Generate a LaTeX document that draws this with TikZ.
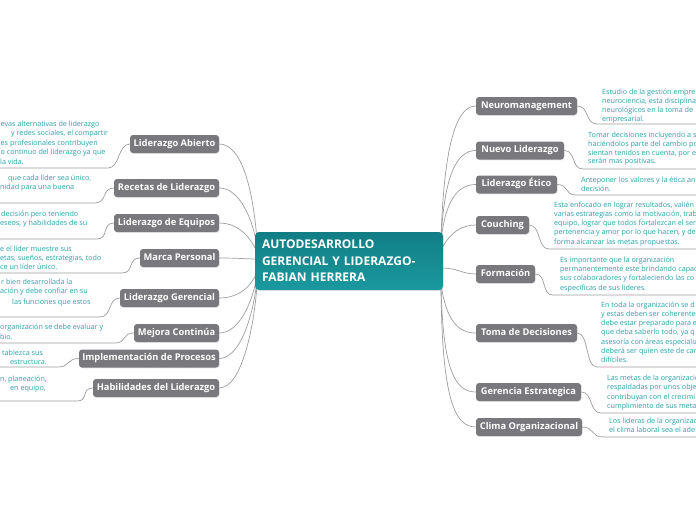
\documentclass[tikz,border=0pt]{standalone}
\usepackage{fontspec}
\setmainfont{Open Sans}
\usetikzlibrary{shadows}
\definecolor{boxgray}{RGB}{121,121,125}
\definecolor{tealtxt}{RGB}{40,162,170}
\definecolor{tealtop}{RGB}{17,126,132}
\definecolor{tealbot}{RGB}{26,153,159}
\definecolor{linegray}{RGB}{158,158,158}
\tikzset{
  topic/.style={fill=boxgray, text=white, font=\bfseries\fontsize{9.3}{11}\selectfont,
    rounded corners=3pt, minimum height=18pt, inner sep=0pt, text height=6.7pt, text depth=2.2pt,
    drop shadow={opacity=0.18,shadow xshift=0.6pt,shadow yshift=-0.9pt}},
  central/.style={top color=tealtop, bottom color=tealbot, draw=none, text=white,
    font=\bfseries\fontsize{12}{16.5}\selectfont, rounded corners=4pt,
    minimum width=188pt, minimum height=58pt, inner xsep=7pt, inner ysep=0pt,
    text width=174pt, align=left,
    drop shadow={opacity=0.18,shadow xshift=0.6pt,shadow yshift=-0.9pt}},
  note/.style={text=tealtxt, font=\fontsize{7.2}{9}\selectfont, inner sep=0pt, anchor=base west},
  conn/.style={draw=linegray, line width=0.7pt},
}
\begin{document}
\begin{tikzpicture}[x=1pt,y=-1pt]
\useasboundingbox (0,0) rectangle (696,520);
\fill[white] (0,0) rectangle (696,520);
\clip (0,0) rectangle (696,520);

% ---------- topic nodes ----------
\node[topic, minimum width=89pt]  (abierto) at (174.5,144) {Liderazgo Abierto};
\node[topic, minimum width=105pt] (recetas) at (166.5,188) {Recetas de Liderazgo};
\node[topic, minimum width=105pt] (equipos) at (166.5,223) {Liderazgo de Equipos};
\node[topic, minimum width=79pt]  (marca)   at (179.5,258) {Marca Personal};
\node[topic, minimum width=99pt]  (gerencial) at (169.5,298) {Liderazgo Gerencial};
\node[topic, minimum width=85pt]  (mejora)  at (176.5,333) {Mejora Continúa};
\node[topic, minimum width=140pt] (implem)  at (149,358.5) {Implementación de Procesos};
\node[topic, minimum width=126pt] (habil)   at (156,388) {Habilidades del Liderazgo};

\node[topic, minimum width=101pt] (neuro)   at (526.5,106) {Neuromanagement};
\node[topic, minimum width=88pt]  (nuevo)   at (520,150.5) {Nuevo Liderazgo};
\node[topic, minimum width=81pt]  (etico)   at (516.5,184.5) {Liderazgo Ético};
\node[topic, minimum width=53pt]  (couch)   at (502.5,225) {Couching};
\node[topic, minimum width=59pt]  (form)    at (505.5,274) {Formación};
\node[topic, minimum width=101pt] (toma)    at (526.5,333) {Toma de Decisiones};
\node[topic, minimum width=105pt] (geren)   at (528.5,392) {Gerencia Estrategica};
\node[topic, minimum width=106pt] (clima)   at (529,427) {Clima Organizacional};

% ---------- anchor points on the central topic ----------
\coordinate (cl1) at (257,240);
\coordinate (cl2) at (257,246);
\coordinate (cl3) at (257,252);
\coordinate (cl4) at (258,259);
\coordinate (cl5) at (257,272);
\coordinate (cl6) at (257,276);
\coordinate (cl7) at (257,280);
\coordinate (cl8) at (257,284);
\coordinate (cr1) at (441,238);
\coordinate (cr2) at (441,240);
\coordinate (cr3) at (441,242);
\coordinate (cr4) at (441,250);
\coordinate (cr5) at (441,268);
\coordinate (cr6) at (441,284);
\coordinate (cr7) at (441,287);
\coordinate (cr8) at (441,288);

% ---------- connectors central -> topics ----------
\draw[conn] (abierto.east) .. controls (242,144) and (253,190) .. (cl1);
\draw[conn] (recetas.east) .. controls (240,188) and (253,220) .. (cl2);
\draw[conn] (equipos.east) .. controls (240,223) and (252,240) .. (cl3);
\draw[conn] (marca.east) .. controls (240,258) and (245,259) .. (cl4);
\draw[conn] (gerencial.east) .. controls (240,298) and (252,285) .. (cl5);
\draw[conn] (mejora.east) .. controls (240,333) and (253,300) .. (cl6);
\draw[conn] (implem.east) .. controls (242,358) and (254,310) .. (cl7);
\draw[conn] (habil.east) .. controls (243,388) and (255,320) .. (cl8);

\draw[conn] (cr1) .. controls (444,150) and (455,106) .. (neuro.west);
\draw[conn] (cr2) .. controls (444,180) and (455,150.5) .. (nuevo.west);
\draw[conn] (cr3) .. controls (445,200) and (458,184.5) .. (etico.west);
\draw[conn] (cr4) .. controls (450,232) and (462,225) .. (couch.west);
\draw[conn] (cr5) .. controls (458,268) and (462,274) .. (form.west);
\draw[conn] (cr6) .. controls (446,320) and (458,333) .. (toma.west);
\draw[conn] (cr7) .. controls (443,370) and (455,392) .. (geren.west);
\draw[conn] (cr8) .. controls (442,400) and (455,427) .. (clima.west);

% ---------- central topic ----------
\node[central] (main) at (349,261) {AUTODESARROLLO\\GERENCIAL Y LIDERAZGO-\\FABIAN HERRERA};

% ---------- underline connectors, left ----------
\coordinate (ul1) at (108,168);  \coordinate (ul1e) at (-5,168);
\coordinate (ul2) at (95,203);   \coordinate (ul2e) at (-5,203);
\coordinate (ul3) at (97,239);   \coordinate (ul3e) at (-5,239);
\coordinate (ul4) at (122,273);  \coordinate (ul4e) at (-5,273);
\coordinate (ul5) at (100,317);  \coordinate (ul5e) at (-5,317);
\coordinate (ul6) at (115,343);  \coordinate (ul6e) at (-5,343);
\coordinate (ul7) at (58,367);   \coordinate (ul7e) at (-5,367);
\coordinate (ul8) at (77,401);   \coordinate (ul8e) at (-5,401);
\draw[conn] (abierto.west) .. controls +(-12,0) and +(12,0) .. (ul1) -- (ul1e);
\draw[conn] (recetas.west) .. controls +(-12,0) and +(12,0) .. (ul2) -- (ul2e);
\draw[conn] (equipos.west) .. controls +(-12,0) and +(12,0) .. (ul3) -- (ul3e);
\draw[conn] (marca.west) .. controls +(-12,0) and +(12,0) .. (ul4) -- (ul4e);
\draw[conn] (gerencial.west) .. controls +(-12,0) and +(12,0) .. (ul5) -- (ul5e);
\draw[conn] (mejora.west) .. controls +(-12,0) and +(12,0) .. (ul6) -- (ul6e);
\draw[conn] (implem.west) .. controls +(-12,0) and +(12,0) .. (ul7) -- (ul7e);
\draw[conn] (habil.west) .. controls +(-12,0) and +(12,0) .. (ul8) -- (ul8e);

% ---------- underline connectors, right ----------
\coordinate (ur1) at (597,124);  \coordinate (ur1e) at (700,124);
\coordinate (ur2) at (583,169);  \coordinate (ur2e) at (700,169);
\coordinate (ur3) at (576,195);  \coordinate (ur3e) at (700,195);
\coordinate (ur4) at (549,249);  \coordinate (ur4e) at (700,249);
\coordinate (ur5) at (553,295);  \coordinate (ur5e) at (700,295);
\coordinate (ur6) at (597,367);  \coordinate (ur6e) at (700,367);
\coordinate (ur7) at (601,413);  \coordinate (ur7e) at (700,413);
\coordinate (ur8) at (603,437);  \coordinate (ur8e) at (700,437);
\draw[conn] (neuro.east) .. controls +(12,0) and +(-12,0) .. (ur1) -- (ur1e);
\draw[conn] (nuevo.east) .. controls +(12,0) and +(-12,0) .. (ur2) -- (ur2e);
\draw[conn] (etico.east) .. controls +(12,0) and +(-12,0) .. (ur3) -- (ur3e);
\draw[conn] (couch.east) .. controls +(12,0) and +(-12,0) .. (ur4) -- (ur4e);
\draw[conn] (form.east) .. controls +(12,0) and +(-12,0) .. (ur5) -- (ur5e);
\draw[conn] (toma.east) .. controls +(12,0) and +(-12,0) .. (ur6) -- (ur6e);
\draw[conn] (geren.east) .. controls +(12,0) and +(-12,0) .. (ur7) -- (ur7e);
\draw[conn] (clima.east) .. controls +(12,0) and +(-12,0) .. (ur8) -- (ur8e);

% ---------- notes, left ----------
\node[note] (a1) at (0.5,126) {evas alternativas de liderazgo};
\node[note] (a2) at (11,135.5) {y redes sociales, el compartir};
\node[note] (a3) at (0.5,145) {es profesionales contribuyen};
\node[note] (a4) at (0.5,154.5) {o continuo del liderazgo ya que};
\node[note] (a5) at (0,164) {la vida.};
\node[note] (b1) at (8,180) {que cada líder sea único,};
\node[note] (b2) at (0,189.5) {nidad para una buena};
\node[note] (c1) at (1,216) {decisión pero teniendo};
\node[note] (c2) at (0,225) {eseos, y habilidades de su};
\node[note] (d1) at (0,251) {e el líder muestre sus};
\node[note] (d2) at (0,260) {etas, sueños, estrategias, todo};
\node[note] (d3) at (0,269) {ce un líder único.};
\node[note] (e1) at (1,284) {r bien desarrollada la};
\node[note] (e2) at (0,293.5) {ación y debe confiar en su};
\node[note] (e3) at (12,304) {las funciones que estos};
\node[note] (f1) at (0,329) {organización se debe evaluar y};
\node[note] (f2) at (0,339) {bio.};
\node[note] (g1) at (2,355) {tablezca sus};
\node[note] (g2) at (10,364) {estructura.};
\node[note] (h1) at (0,381) {n, planeación,};
\node[note] (h2) at (10,390) {en equipo,};

% ---------- notes, right ----------
\node[note] (p1) at (602,94) {Estudio de la gestión empre};
\node[note] (p2) at (602,103) {neurociencia, esta disciplina};
\node[note] (p3) at (602,112.5) {neurológicos en la toma de};
\node[note] (p4) at (602,121.5) {empresarial.};
\node[note] (q1) at (588,137) {Tomar decisiones incluyendo a s};
\node[note] (q2) at (588,146) {haciéndolos parte del cambio po};
\node[note] (q3) at (588,155) {sientan tenidos en cuenta, por e};
\node[note] (q4) at (588,163.5) {serán mas positivas.};
\node[note] (s1) at (581,182) {Anteponer los valores y la ética an};
\node[note] (s2) at (581,191) {decisión.};
\node[note] (t1) at (554,207) {Esta enfocado en lograr resultados, valién};
\node[note] (t2) at (554,216.3) {varias estrategias como la motivación, trab};
\node[note] (t3) at (554,225.6) {equipo, lograr que todos fortalezcan el sen};
\node[note] (t4) at (554,234.9) {pertenencia y amor por lo que hacen, y de};
\node[note] (t5) at (554,244.2) {forma alcanzar las metas propuestas.};
\node[note] (u1) at (560,262) {Es importante que la organización};
\node[note] (u2) at (560,271.3) {permanentemente este brindando capac};
\node[note] (u3) at (560,280.6) {sus colaboradores y fortaleciendo las co};
\node[note] (u4) at (560,290) {especificas de sus lideres.};
\node[note] (v1) at (601,307) {En toda la organización se d};
\node[note] (v2) at (601,316.3) {y estas deben ser coherente};
\node[note] (v3) at (601,325.6) {debe estar preparado para e};
\node[note] (v4) at (601,334.9) {que deba saberlo todo, ya q};
\node[note] (v5) at (601,344.2) {asesoría con áreas especializ};
\node[note] (v6) at (601,353.5) {deberá ser quien este de car};
\node[note] (v7) at (601,362.8) {difíciles.};
\node[note] (w1) at (607,380) {Las metas de la organizació};
\node[note] (w2) at (607,389.5) {respaldadas por unos obje};
\node[note] (w3) at (607,399) {contribuyan con el crecimi};
\node[note] (w4) at (607,408.5) {cumplimiento de sus metas};
\node[note] (z1) at (609,423) {Los lideras de la organizac};
\node[note] (z2) at (609,432.5) {el clima laboral sea el ade};
\end{tikzpicture}
\end{document}
